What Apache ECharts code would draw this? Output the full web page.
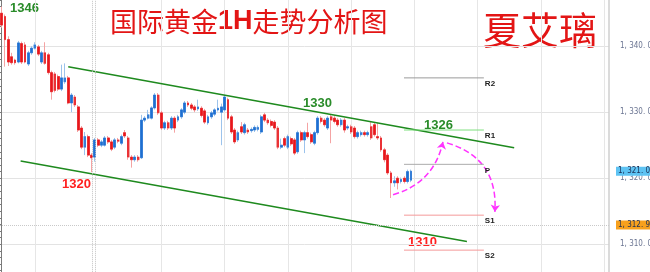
<!DOCTYPE html>
<html>
<head>
<meta charset="utf-8">
<script src="https://cdn.jsdelivr.net/npm/echarts@6/dist/echarts.min.js"></script>
<style>html,body{margin:0;padding:0;background:#fff;}#c{width:650px;height:272px;}</style>
</head>
<body>
<div id="c"></div>
<script>
// ---- data ----
// each candle: [open, close, low, high]
const candles = [
[1345.0,1343.2,1342.8,1346.0],[1344.5,1341.0,1336.9,1344.8],[1341.0,1337.6,1337.0,1341.5],[1338.4,1337.5,1337.2,1339.0],
[1337.9,1337.5,1337.2,1338.1],[1337.6,1340.5,1337.4,1340.8],[1340.4,1337.6,1337.3,1340.7],[1340.2,1337.6,1337.4,1340.6],
[1337.3,1339.0,1337.0,1339.3],[1339.0,1339.7,1338.7,1340.0],[1339.7,1340.2,1339.5,1340.6],[1339.9,1338.8,1338.5,1340.2],
[1337.6,1339.0,1337.3,1339.3],[1339.0,1337.4,1337.2,1340.6],[1338.7,1336.0,1335.7,1339.0],[1336.0,1333.1,1331.9,1336.3],
[1335.8,1333.3,1333.0,1336.1],[1335.4,1333.5,1333.2,1335.7],[1333.5,1335.2,1333.2,1337.2],[1334.6,1335.2,1334.3,1337.4],
[1335.2,1331.4,1331.2,1335.5],[1331.4,1332.6,1330.0,1332.9],[1332.3,1331.1,1330.8,1332.6],[1330.8,1327.3,1327.0,1331.1],
[1327.6,1324.7,1324.4,1327.9],[1324.7,1326.3,1323.5,1327.0],[1326.3,1323.5,1323.2,1326.6],[1323.5,1323.1,1320.9,1323.8],
[1323.2,1325.8,1322.5,1326.1],[1325.8,1325.0,1324.7,1326.1],[1325.0,1325.5,1324.7,1325.8],[1325.0,1326.1,1324.8,1326.4],
[1326.1,1325.5,1325.2,1326.4],[1325.5,1324.4,1324.1,1325.8],[1324.7,1325.8,1324.4,1326.1],[1325.8,1325.6,1325.3,1326.1],
[1325.3,1326.3,1325.0,1326.6],[1326.9,1326.4,1326.1,1327.3],[1326.1,1323.2,1322.8,1326.4],[1323.2,1322.8,1321.6,1323.5],
[1322.8,1323.2,1322.5,1323.5],[1323.2,1322.8,1322.5,1323.5],[1323.1,1328.8,1322.9,1329.6],[1328.8,1329.1,1328.5,1329.4],
[1329.1,1329.6,1328.9,1330.35],[1329.1,1330.65,1328.9,1330.9],[1330.65,1332.6,1330.4,1332.9],[1332.6,1329.9,1329.6,1332.9],
[1329.9,1327.6,1327.3,1330.2],[1327.6,1328.4,1327.3,1328.7],[1328.4,1327.6,1327.3,1328.7],[1327.6,1329.1,1327.3,1329.4],
[1329.1,1327.6,1326.9,1329.4],[1328.8,1329.3,1328.5,1329.6],[1329.3,1330.35,1329.0,1330.6],[1330.0,1331.4,1329.7,1331.7],
[1331.4,1331.1,1330.8,1331.7],[1331.1,1330.6,1330.3,1331.4],[1330.8,1330.35,1330.0,1331.1],[1330.5,1330.8,1330.2,1331.9],
[1330.6,1329.5,1329.2,1330.9],[1330.2,1328.5,1328.2,1330.5],[1328.4,1329.3,1328.1,1329.6],[1329.3,1329.9,1329.0,1330.2],
[1329.7,1330.35,1329.4,1330.6],[1330.35,1330.6,1330.1,1331.9],[1330.0,1330.8,1325.0,1331.3],[1330.35,1332.3,1330.1,1332.6],
[1331.9,1329.1,1328.8,1332.2],[1329.3,1327.0,1326.7,1329.6],[1327.3,1325.5,1325.2,1327.6],[1325.8,1326.9,1325.5,1327.2],
[1327.8,1327.0,1326.7,1328.5],[1326.9,1328.1,1326.6,1328.4],[1327.3,1327.0,1326.7,1327.6],[1327.2,1327.4,1326.9,1327.7],
[1327.3,1327.7,1327.0,1328.0],[1327.4,1327.7,1327.1,1328.0],[1327.0,1329.3,1326.7,1329.6],[1329.6,1328.8,1328.5,1329.9],
[1328.8,1328.4,1328.1,1329.1],[1328.6,1328.0,1327.7,1328.9],[1328.5,1327.6,1327.3,1328.8],[1327.6,1324.7,1324.4,1327.9],
[1324.7,1325.0,1324.4,1326.0],[1326.0,1325.0,1324.7,1326.3],[1324.7,1326.3,1324.4,1326.6],[1326.0,1325.2,1324.9,1326.3],
[1325.8,1323.8,1323.5,1326.1],[1324.0,1326.9,1323.7,1327.2],[1326.9,1325.8,1325.5,1327.2],[1325.8,1326.9,1323.8,1327.2],
[1326.9,1326.3,1326.0,1328.4],[1326.6,1325.5,1325.2,1326.9],[1325.3,1326.9,1325.0,1327.2],[1326.9,1329.1,1326.6,1329.4],
[1329.1,1328.6,1328.3,1329.4],[1328.8,1328.1,1327.8,1329.1],[1327.6,1329.1,1327.3,1329.4],[1329.3,1328.8,1325.3,1329.6],
[1329.1,1328.6,1328.3,1329.4],[1328.8,1328.1,1327.8,1329.1],[1328.1,1328.8,1327.8,1329.1],[1328.8,1327.3,1326.9,1329.1],
[1327.6,1327.8,1327.3,1328.1],[1327.8,1327.0,1326.7,1328.1],[1327.6,1326.3,1326.0,1327.9],[1326.3,1326.9,1326.0,1327.2],
[1326.6,1326.9,1326.3,1327.2],[1326.9,1326.6,1326.3,1327.2],[1326.6,1326.9,1326.3,1327.2],[1327.8,1326.1,1325.8,1328.5],
[1328.1,1326.6,1326.3,1328.5],[1326.3,1326.1,1325.8,1328.4],[1326.1,1324.3,1324.0,1326.4],[1324.3,1322.8,1322.4,1324.6],
[1323.5,1320.8,1320.5,1323.8],[1320.8,1319.3,1317.0,1321.1],[1319.3,1319.6,1318.7,1320.3],[1320.0,1319.3,1318.3,1320.3],
[1319.5,1319.8,1319.2,1320.1],[1320.0,1319.5,1319.2,1320.3],[1319.5,1321.0,1319.2,1321.3],[1319.7,1321.06,1319.4,1321.3]
];
const slotCount = 183; // visible bar slots on the time axis (data + empty space on the right)
const categories = Array.from({length: slotCount}, (_, i) => 'H' + i);

const upperTrend = [[20.0, 1336.9], [154.0, 1324.6]];
const lowerTrend = [[5.7, 1322.6], [139.8, 1310.4]];
const pivotNames = ['R2', 'R1', 'P', 'S1', 'S2'];
const pivotValues = [1335.2, 1327.3, 1322.1, 1314.4, 1309.1];
const pivotSpan = [120.9, 144.9];
const forecastUp = [[117.6, 1317.5], [132.6, 1325.5]];
const forecastDown = [[133.8, 1325.35], [148.2, 1314.9]];
const lastPrice = 1321.06;
const markPrice = 1312.90;
const sessionBreaks = [27.1, 28.0];
const levelTexts = ['1346', '1330', '1326', '1320', '1310'];
const titleParts = ['国际黄金', '1H', '走势分析图'];
const author = '夏艾璃';

// ---- chart ----
const fmt = v => { const s = v.toFixed(2); return s.slice(0, 1) + ', ' + s.slice(1, s.length - 3) + '. ' + s.slice(-2); };
const bodies = candles.map(d => [d[0], d[1], Math.min(d[0], d[1]), Math.max(d[0], d[1])]);
const pivotColors = ['#9a9a9a', '#7fe07f', '#ababab', '#f49a9a', '#f49a9a'];
const smallFont = '"Liberation Sans Narrow", "DejaVu Sans Condensed", "Liberation Sans", sans-serif';

const chart = echarts.init(document.getElementById('c'), null, {renderer: 'canvas'});

const tagLabel = (v, bg) => ({show: true, position: 'end', distance: 7, formatter: fmt(v), backgroundColor: bg,
  color: '#1b2f55', fontSize: 8, fontFamily: smallFont, padding: [1, 3, 0, 2]});

const series = [
  {
    type: 'candlestick', xAxisIndex: 0, yAxisIndex: 0, data: candles, barWidth: 2.4, silent: true,
    itemStyle: {color: '#9cc3ec', color0: '#f4a3a3', borderColor: '#9cc3ec', borderColor0: '#f4a3a3', borderWidth: 1}
  },
  {
    type: 'candlestick', xAxisIndex: 0, yAxisIndex: 0, data: bodies, barWidth: 2.2, silent: true,
    itemStyle: {color: '#1f6fd1', color0: '#e8161b', borderColor: '#1f6fd1', borderColor0: '#e8161b', borderWidth: 0.6},
    markLine: {
      symbol: ['none', 'none'], silent: true, animation: false,
      data: [
        {yAxis: lastPrice, lineStyle: {color: 'rgba(0,0,0,0)', width: 0}, label: tagLabel(lastPrice, '#5ec3f3')},
        {yAxis: markPrice, lineStyle: {type: 'dotted', color: '#c9c9c9', width: 1}, label: tagLabel(markPrice, '#f7a01c')}
      ]
    }
  },
  {
    type: 'line', xAxisIndex: 1, yAxisIndex: 0, data: [], silent: true,
    markLine: {
      symbol: ['none', 'none'], silent: true, animation: false, label: {show: false},
      lineStyle: {type: 'dotted', color: '#c4c4c4', width: 1},
      data: sessionBreaks.map(x => ({xAxis: x}))
    }
  },
  {type: 'line', xAxisIndex: 1, yAxisIndex: 0, data: upperTrend, symbol: 'none', silent: true,
   lineStyle: {color: '#1e8a1e', width: 1.5}},
  {type: 'line', xAxisIndex: 1, yAxisIndex: 0, data: lowerTrend, symbol: 'none', silent: true,
   lineStyle: {color: '#1e8a1e', width: 1.5}}
];
pivotNames.forEach((n, i) => {
  series.push({
    type: 'line', name: n, xAxisIndex: 1, yAxisIndex: 0, symbol: 'none', silent: true,
    data: [[pivotSpan[0], pivotValues[i]], [pivotSpan[1], pivotValues[i]]],
    lineStyle: {color: pivotColors[i], width: 1},
    endLabel: {show: true, formatter: n, color: '#222', fontSize: 8, fontWeight: 'bold',
               fontFamily: 'Liberation Sans', distance: 1, offset: [0, 6]}
  });
});
series.push({
  type: 'lines', coordinateSystem: 'cartesian2d', xAxisIndex: 1, yAxisIndex: 0, silent: true,
  symbol: ['none', 'arrow'], symbolSize: 7,
  lineStyle: {color: '#ff33ff', width: 1.5, type: 'dashed', opacity: 1},
  data: [
    {coords: forecastUp, lineStyle: {curveness: -0.3}},
    {coords: forecastDown, lineStyle: {curveness: 0.4}}
  ]
});

const txt = (s, x, y, color) => ({
  type: 'text', x: x, y: y, silent: true,
  style: {text: s, fill: color, font: 'bold 13px "Liberation Sans"', align: 'left', verticalAlign: 'middle'}
});

chart.setOption({
  animation: false,
  backgroundColor: '#ffffff',
  grid: {left: 0, right: 41, top: -19.8, bottom: -38.2, containLabel: false, outerBoundsMode: 'none'},
  xAxis: [
    {type: 'category', data: categories, boundaryGap: true,
     axisLine: {show: false}, axisTick: {show: false}, axisLabel: {show: false},
     splitLine: {show: true, alignWithLabel: true, lineStyle: {color: '#e6e6e6', width: 1},
                 interval: (i) => i >= 10 && (i - 10) % 19 === 0 && i !== 29}},
    {type: 'value', min: -0.5, max: slotCount - 0.5, show: false}
  ],
  yAxis: [
    {type: 'value', min: 1300, max: 1350, interval: 10, position: 'right', offset: 8,
     axisLine: {show: true, lineStyle: {color: '#7a7a7a'}},
     axisTick: {show: true, inside: true, length: 8, lineStyle: {color: '#7a7a7a'}},
     minorTick: {show: true, splitNumber: 10, length: 3, lineStyle: {color: '#7a7a7a'}},
     axisLabel: {show: true, margin: 3, formatter: fmt, fontSize: 8, color: '#6b7592', fontFamily: smallFont},
     splitLine: {show: true, lineStyle: {color: '#e3e3e3', width: 1}}},
    {type: 'value', min: 1300, max: 1350, position: 'right', offset: 0,
     axisLine: {show: true, lineStyle: {color: '#cfcfcf', width: 1.5}},
     axisTick: {show: false}, axisLabel: {show: false}, splitLine: {show: false}}
  ],
  series: series,
  graphic: [
    {type: 'text', x: 110, y: 21.5, silent: true,
     style: {text: '{a|' + titleParts[0] + '}{b|' + titleParts[1] + '}{a|' + titleParts[2] + '}',
             align: 'left', verticalAlign: 'middle',
             rich: {a: {fontSize: 27, fontFamily: 'Noto Sans CJK SC', fill: '#e31515'},
                    b: {fontSize: 27, fontWeight: 'bold', fontFamily: 'Liberation Sans', fill: '#e31515'}}}},
    {type: 'text', x: 483, y: 30, silent: true,
     style: {text: author, fill: '#e31515', font: '38px "Noto Sans CJK SC"', align: 'left', verticalAlign: 'middle'}},
    txt(levelTexts[0], 10, 8.5, '#2a8c2a'),
    txt(levelTexts[1], 303, 103, '#2a8c2a'),
    txt(levelTexts[2], 424, 125.5, '#2a8c2a'),
    txt(levelTexts[3], 62, 184.5, '#ff2020'),
    txt(levelTexts[4], 408, 242, '#ff2020')
  ]
});
</script>
</body>
</html>
